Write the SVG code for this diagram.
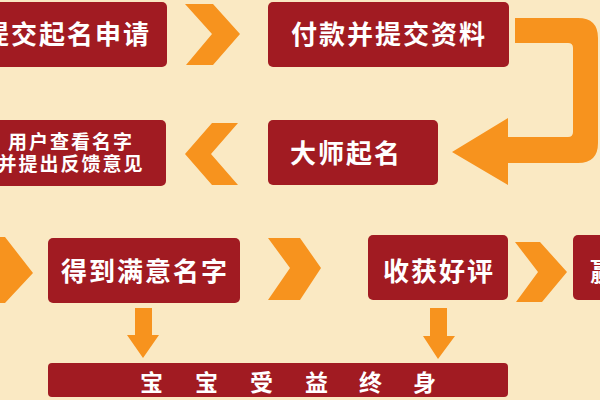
<svg xmlns="http://www.w3.org/2000/svg" width="600" height="400" viewBox="0 0 600 400">
<style>
.box{fill:#A11B22;}
.arr{fill:#F7931E;}
.t{font-family:"Noto Sans CJK SC","Noto Sans",sans-serif;font-weight:bold;fill:#FFFFFF;}
.big{font-size:26px;letter-spacing:2px;}
.sm{font-size:19px;letter-spacing:2px;}
.bar{font-size:23px;}
</style>
<rect x="0" y="0" width="600" height="400" fill="#FAE9C3"/>
<g id="connectors">
<polygon class="arr" points="185,4 213,4 240,34 213,65 186,65 212,34"/>
<path class="arr" d="M515,18 H578 Q598,18 598,38 V143 Q598,163 578,163 H508 V185 L452,152 L508,118 V137 H568 Q573,137 573,132 V48 Q573,43 568,43 H515 Z"/>
<polygon class="arr" points="238,123 212,123 185,154 212,185 238,185 211,154"/>
<polygon class="arr" points="-30,237 5,237 33,273 5,303 -30,303 -5,273"/>
<polygon class="arr" points="268,238 300,238 321,268 300,300 268,300 290,268"/>
<polygon class="arr" points="515,242 540,242 567,272 542,302 516,302 538,272"/>
<path class="arr" d="M135,308 H152 V335 H159 L143,358 L127,335 H135 Z"/>
<path class="arr" d="M430,308 H447 V336 H455 L438,359 L423,336 H430 Z"/>
</g>
<g id="n1">
<rect class="box" x="-20" y="2" width="187" height="65" rx="5"/>
<text class="t big" x="151" y="44" text-anchor="end">提交起名申请</text>
</g>
<g id="n2">
<rect class="box" x="268" y="2" width="241" height="65" rx="5"/>
<text class="t big" x="389" y="44" text-anchor="middle">付款并提交资料</text>
</g>
<g id="n3">
<rect class="box" x="268" y="120" width="170" height="65" rx="5"/>
<text class="t big" x="290" y="163">大师起名</text>
</g>
<g id="n4">
<rect class="box" x="-20" y="120" width="186" height="66" rx="5"/>
<text class="t sm" x="71" y="149" text-anchor="middle">用户查看名字</text>
<text class="t sm" x="71" y="171" text-anchor="middle">并提出反馈意见</text>
</g>
<g id="n5">
<rect class="box" x="48" y="238" width="192" height="65" rx="5"/>
<text class="t big" x="145" y="281" text-anchor="middle">得到满意名字</text>
</g>
<g id="n6">
<rect class="box" x="368" y="235" width="140" height="65" rx="5"/>
<text class="t big" x="439" y="281" text-anchor="middle">收获好评</text>
</g>
<g id="n7">
<rect class="box" x="573" y="235" width="60" height="65" rx="5"/>
<text class="t big" x="590" y="281">赢</text>
</g>
<g id="n8">
<rect class="box" x="48" y="363" width="460" height="34" rx="4"/>
<text class="t bar" x="140 195 250 305 359 413" y="391">宝宝受益终身</text>
</g>
</svg>
